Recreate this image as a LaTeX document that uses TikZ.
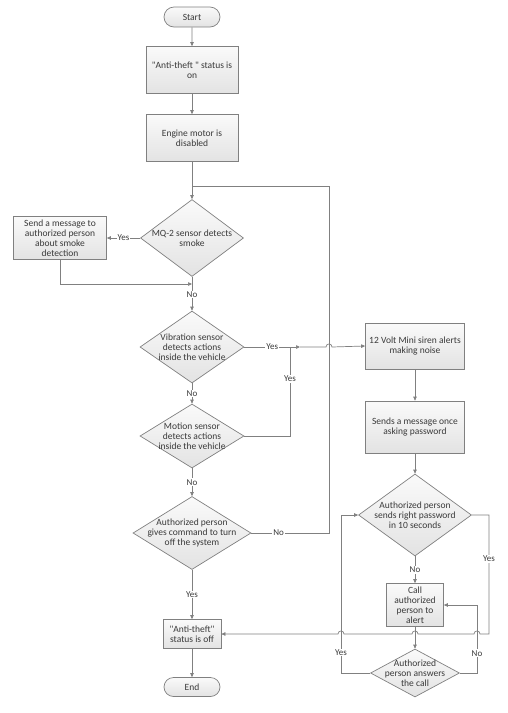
\documentclass[tikz,border=0pt]{standalone}
\usepackage{fontspec}
\setmainfont{Carlito}[Ligatures=TeXOff]
\usetikzlibrary{shapes.geometric,shapes.misc,arrows.meta}
\definecolor{ln}{HTML}{808080}
\definecolor{tx}{HTML}{3A3A3A}
\begin{document}
\begin{tikzpicture}[x=1pt,y=-1pt, font=\fontsize{9.5}{10}\selectfont, text=tx,
 every node/.style={align=center},
 box/.style={draw=ln, line width=0.7pt, top color=gray!4, bottom color=gray!22, inner sep=1pt},
 term/.style={box, rounded rectangle},
 decision/.style={diamond, draw=ln, line width=0.7pt, top color=gray!4, bottom color=gray!22, inner sep=0pt},
 arr/.style={draw=ln, line width=0.7pt, -{Triangle[length=4pt,width=3.5pt]}},
 lnk/.style={draw=ln, line width=0.7pt},
 lbl/.style={fill=white, inner sep=1pt, font=\fontsize{9}{10}\selectfont}]
\useasboundingbox (0,0) rectangle (507,713);
% left column
\node[term, minimum width=58pt, minimum height=20pt] (start) at (192,17) {Start};
\node[box, minimum width=92pt, minimum height=47pt] (on) at (192,70) {"Anti-theft " status is\\on};
\node[box, minimum width=92pt, minimum height=47pt] (engine) at (192,138) {Engine motor is\\disabled};
\node[decision, minimum width=103pt, minimum height=77pt, label={[align=center]center:MQ-2 sensor detects\\smoke}] (mq2) at (192,238) {};
\node[box, minimum width=93pt, minimum height=43pt] (msg) at (60,238) {Send a message to\\authorized person\\about smoke\\detection};
\node[decision, minimum width=104pt, minimum height=72pt, label={[align=center]center:Vibration sensor\\detects actions\\inside the vehicle}] (vib) at (192,347) {};
\node[decision, minimum width=104pt, minimum height=64pt, label={[align=center]center:Motion sensor\\detects actions\\inside the vehicle}] (motion) at (192,436) {};
\node[decision, minimum width=118pt, minimum height=73pt, label={[align=center]center:Authorized person\\gives command to turn\\off the system}] (auth) at (192,533) {};
\node[box, minimum width=58pt, minimum height=29pt] (off) at (192,634) {"Anti-theft"\\status is off};
\node[term, minimum width=58pt, minimum height=19pt] (end) at (192,687) {End};
% right column
\node[box, minimum width=99pt, minimum height=46pt] (siren) at (415,346) {12 Volt Mini siren alerts\\making noise};
\node[box, minimum width=99pt, minimum height=52pt] (sends) at (415,427) {Sends a message once\\asking password};
\node[decision, minimum width=113pt, minimum height=82pt, label={[align=center]center:Authorized person\\sends right password\\in 10 seconds}] (pwd) at (415,515) {};
\node[box, minimum width=57pt, minimum height=43pt] (call) at (415,605) {Call\\authorized\\person to\\alert};
\node[decision, minimum width=89pt, minimum height=48pt, label={[align=center]center:Authorized\\person answers\\the call}] (answer) at (415,673) {};
% junction points
\coordinate (j0) at (192,186);
\coordinate (j2) at (192,284);
\coordinate (j1) at (300,347);
\coordinate (j3) at (290,347);
% connectors
\draw[arr] (start) -- (on);
\draw[arr] (on) -- (engine);
\draw[lnk] (engine) -- (j0);
\draw[arr] (j0) -- (mq2);
\draw[arr] (mq2) -- node[lbl]{Yes} (msg);
\draw[arr] (msg.south) |- (j2);
\draw[arr] (mq2) -- node[lbl, pos=0.52]{No} (vib);
\draw[arr] (vib) -- node[lbl]{Yes} (j1);
\draw[lnk] (motion.east) -| node[lbl, pos=0.82]{Yes} (j3);
\draw[arr] (j1) -- (326,347) .. controls (326,343) and (332,343) .. (332,347) -- (siren.west);
\draw[arr] (vib) -- node[lbl]{No} (motion);
\draw[arr] (motion) -- node[lbl]{No} (auth);
\draw[lnk] (auth.east) -- node[lbl, pos=0.35]{No} (329,533) -- (329,186) -- (j0);
\draw[arr] (auth) -- node[lbl]{Yes} (off);
\draw[arr] (off) -- (end);
\draw[arr] (siren) -- (sends);
\draw[arr] (sends) -- (pwd);
\draw[arr] (pwd) -- node[lbl]{No} (call);
\draw[arr] (call) -- (answer);
\draw[arr] (answer.west) -- (341,673) -- node[lbl, pos=0.13]{Yes} (341,515) -- (pwd.west);
\draw[arr] (answer.east) -- (477,673) -- node[lbl, pos=0.29]{No} (477,605) -- (call.east);
\draw[arr] (pwd.east) -- (489,515) -- node[lbl, pos=0.37]{Yes} (489,634) -- (480,634)
  .. controls (480,630) and (474,630) .. (474,634) -- (418,634)
  .. controls (418,630) and (412,630) .. (412,634) -- (344,634)
  .. controls (344,630) and (338,630) .. (338,634) -- (off.east);
\end{tikzpicture}
\end{document}
